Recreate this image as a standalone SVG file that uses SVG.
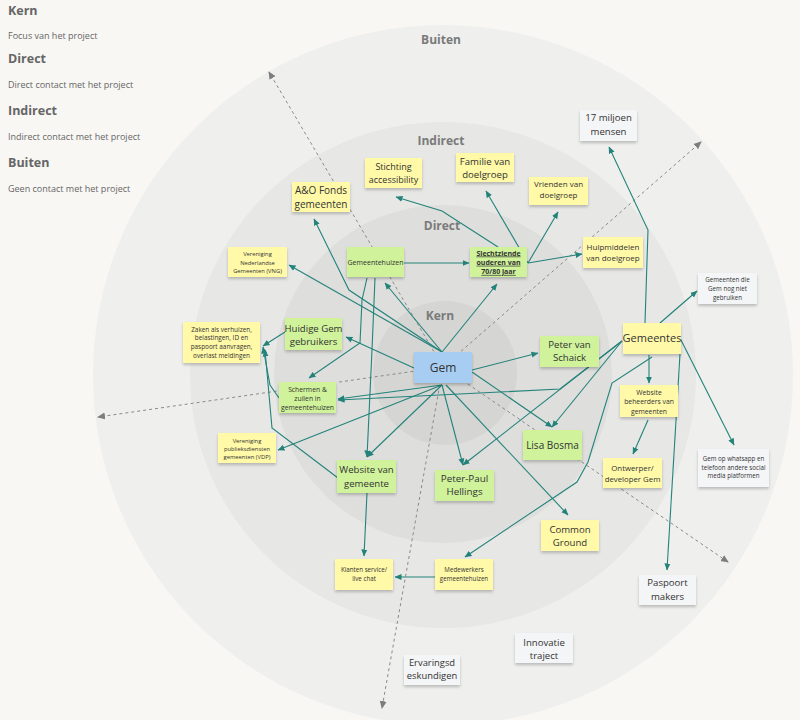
<svg xmlns="http://www.w3.org/2000/svg" width="800" height="720" viewBox="0 0 800 720">
<defs>
<marker id="ah" markerUnits="userSpaceOnUse" markerWidth="7" markerHeight="7" refX="6.5" refY="3.5" orient="auto"><path d="M0,0.5 L7,3.5 L0,6.5 z" fill="#23837a"/></marker>
<marker id="ag" markerUnits="userSpaceOnUse" markerWidth="8" markerHeight="8" refX="7" refY="4" orient="auto"><path d="M0,0.5 L8,4 L0,7.5 z" fill="#7d7d7d"/></marker>
<filter id="sh" x="-10%" y="-10%" width="120%" height="140%"><feDropShadow dx="0" dy="2" stdDeviation="1.4" flood-color="#000" flood-opacity="0.22"/></filter>
<style>
text{font-family:"Open Sans","Noto Sans","Liberation Sans",sans-serif;fill:#333;text-anchor:middle}
.lg{text-anchor:start;fill:#666}
.lt{font-weight:bold;font-size:12.5px}
.ld{font-size:9px;fill:#666}
.ring{font-weight:bold;font-size:12px;fill:#7a7a7a}
.y{fill:#fff9a8;filter:url(#sh)}
.g{fill:#cff29b;filter:url(#sh)}
.b{fill:#a8cdf2;filter:url(#sh)}
.w{fill:#f4f5f7;filter:url(#sh)}
.cn{fill:none;stroke:#23837a;stroke-width:1.1;marker-end:url(#ah)}
.ds{fill:none;stroke:#8a8a8a;stroke-width:1;stroke-dasharray:3 3;marker-end:url(#ag)}
</style>
</defs>
<rect width="800" height="720" fill="#f8f7f4"/>
<g id="rings">
<circle cx="443" cy="375" r="350" fill="#efefed"/>
<circle cx="443" cy="375" r="253" fill="#e7e7e5"/>
<circle cx="443" cy="374" r="169" fill="#dededd"/>
<circle cx="445" cy="373" r="72" fill="#d5d5d4"/>
<text class="ring" x="441" y="44">Buiten</text>
<text class="ring" x="441" y="145">Indirect</text>
<text class="ring" x="442" y="230">Direct</text>
<text class="ring" x="440" y="320">Kern</text>
</g>
<g id="legend">
<text class="lg lt" x="8" y="15">Kern</text>
<text class="lg ld" x="8" y="39">Focus van het project</text>
<text class="lg lt" x="8" y="63">Direct</text>
<text class="lg ld" x="8" y="88">Direct contact met het project</text>
<text class="lg lt" x="8" y="115">Indirect</text>
<text class="lg ld" x="8" y="140">Indirect contact met het project</text>
<text class="lg lt" x="8" y="167">Buiten</text>
<text class="lg ld" x="8" y="192">Geen contact met het project</text>
</g>
<g id="connectors">
<path class="ds" d="M443,367 L269,72"/>
<path class="ds" d="M443,367 L701,142"/>
<path class="ds" d="M443,367 L728,562"/>
<path class="ds" d="M443,367 L382,708"/>
<path class="ds" d="M443,367 L98,417"/>
<path class="cn" d="M442,352 L385,283"/>
<path class="cn" d="M442,352 L497,284"/>
<path class="cn" d="M442,352 L349,290 L314,219"/>
<path class="cn" d="M442,352 L289,265"/>
<path class="cn" d="M404,263 L469,263"/>
<path class="cn" d="M528,263 L486,191"/>
<path class="cn" d="M528,263 L558,212"/>
<path class="cn" d="M528,263 L582,254"/>
<path class="cn" d="M498,247 L442,211 L396,197"/>
<path class="cn" d="M414,368 L346,337"/>
<path class="cn" d="M285,332 L263,346"/>
<path class="cn" d="M367,278 L362,300 L360,343 L309,378"/>
<path class="cn" d="M375,278 L372,350 L367,457"/>
<path class="cn" d="M442,385 L338,399"/>
<path class="cn" d="M442,385 L278,450"/>
<path class="cn" d="M442,385 L367,457"/>
<path class="cn" d="M442,385 L463,465"/>
<path class="cn" d="M446,385 L568,515"/>
<path class="cn" d="M472,370 L538,353"/>
<path class="cn" d="M472,372 L552,427"/>
<path class="cn" d="M622,341 L552,427"/>
<path class="cn" d="M622,341 L463,465"/>
<path class="cn" d="M622,341 L560,389 L338,400"/>
<path class="cn" d="M645,323 L648,230 L609,147"/>
<path class="cn" d="M660,323 L697,291"/>
<path class="cn" d="M681,340 L734,445"/>
<path class="cn" d="M649,355 L649,383"/>
<path class="cn" d="M648,420 L633,454"/>
<path class="cn" d="M680,354 L667,570"/>
<path class="cn" d="M652,357 L612,383 L588,462 L577,482 L465,557"/>
<path class="cn" d="M367,493 L364,556"/>
<path class="cn" d="M435,577 L395,577"/>
<path class="cn" d="M279,398 L270,385 L263,347"/>
<path class="cn" d="M338,478 L272,428 L265,350"/>
</g>
<g id="gem"><rect class="b" x="414" y="352" width="58" height="31"/><text x="443" y="372" font-size="12">Gem</text></g>
<g id="gemeentehuizen"><rect class="g" x="347" y="247" width="57" height="30"/><text x="375.5" y="264.5" font-size="7">Gemeentehuizen</text></g>
<g id="slechtziende"><rect class="g" x="470" y="247" width="57" height="30"/><text x="498.5" font-size="7" font-weight="bold" text-decoration="underline"><tspan x="498.5" y="255.5">Slechtziende</tspan><tspan x="498.5" y="264.7">ouderen van</tspan><tspan x="498.5" y="273.9">70/80 jaar</tspan></text></g>
<g id="aofonds"><rect class="y" x="292" y="182" width="58" height="30"/><text font-size="10"><tspan x="321" y="194">A&amp;O Fonds</tspan><tspan x="321" y="207.5">gemeenten</tspan></text></g>
<g id="stichting"><rect class="y" x="365" y="158" width="57" height="30"/><text font-size="9"><tspan x="393.5" y="170">Stichting</tspan><tspan x="393.5" y="182.5">accessibility</tspan></text></g>
<g id="familie"><rect class="y" x="456" y="153" width="58" height="29"/><text font-size="9.6"><tspan x="485" y="164.5">Familie van</tspan><tspan x="485" y="177.5">doelgroep</tspan></text></g>
<g id="vrienden"><rect class="y" x="529" y="177" width="59" height="28"/><text font-size="8"><tspan x="558.5" y="187">Vrienden van</tspan><tspan x="558.5" y="198">doelgroep</tspan></text></g>
<g id="hulpmiddelen"><rect class="y" x="583" y="237" width="60" height="31"/><text font-size="8"><tspan x="613" y="249.5">Hulpmiddelen</tspan><tspan x="613" y="260.5">van doelgroep</tspan></text></g>
<g id="vng"><rect class="y" x="228" y="247" width="59" height="30"/><text font-size="5.8"><tspan x="257.5" y="256.3">Vereniging</tspan><tspan x="257.5" y="264.7">Nederlandse</tspan><tspan x="257.5" y="273.1">Gemeenten (VNG)</tspan></text></g>
<g id="zaken"><rect class="y" x="183" y="322" width="77" height="41"/><text font-size="6.4"><tspan x="221.5" y="331.5">Zaken als verhuizen,</tspan><tspan x="221.5" y="340.4">belastingen, ID en</tspan><tspan x="221.5" y="349.3">paspoort aanvragen,</tspan><tspan x="221.5" y="358.2">overlast meldingen</tspan></text></g>
<g id="huidige"><rect class="g" x="285" y="318" width="57" height="32"/><text font-size="9.6"><tspan x="313.5" y="332">Huidige Gem</tspan><tspan x="313.5" y="345">gebruikers</tspan></text></g>
<g id="schermen"><rect class="g" x="279" y="382" width="57" height="31"/><text font-size="6.8"><tspan x="307.5" y="391.8">Schermen &amp;</tspan><tspan x="307.5" y="401">zuilen in</tspan><tspan x="307.5" y="410.2">gemeentehuizen</tspan></text></g>
<g id="vdp"><rect class="y" x="218" y="433" width="58" height="30"/><text font-size="5.8"><tspan x="247" y="442.6">Vereniging</tspan><tspan x="247" y="451">publieksdiensten</tspan><tspan x="247" y="459.4">gemeenten (VDP)</tspan></text></g>
<g id="website"><rect class="g" x="337" y="460" width="59" height="33"/><text font-size="9.6"><tspan x="366.5" y="473.3">Website van</tspan><tspan x="366.5" y="486.6">gemeente</tspan></text></g>
<g id="petervs"><rect class="g" x="540" y="336" width="59" height="31"/><text font-size="9.6"><tspan x="569.5" y="348">Peter van</tspan><tspan x="569.5" y="361">Schaick</tspan></text></g>
<g id="lisa"><rect class="g" x="523" y="430" width="59" height="30"/><text x="552.5" y="448.5" font-size="10">Lisa Bosma</text></g>
<g id="peterpaul"><rect class="g" x="435" y="470" width="59" height="31"/><text font-size="9.8"><tspan x="464.5" y="481.6">Peter-Paul</tspan><tspan x="464.5" y="495">Hellings</tspan></text></g>
<g id="common"><rect class="y" x="541" y="520" width="58" height="31"/><text font-size="9.6"><tspan x="570" y="532.6">Common</tspan><tspan x="570" y="545.6">Ground</tspan></text></g>
<g id="gemeentes"><rect class="y" x="623" y="323" width="58" height="31"/><text x="652" y="342" font-size="11">Gemeentes</text></g>
<g id="beheerders"><rect class="y" x="620" y="385" width="58" height="32"/><text font-size="6.8"><tspan x="649" y="395.1">Website</tspan><tspan x="649" y="404.3">beheerders van</tspan><tspan x="649" y="413.5">gemeenten</tspan></text></g>
<g id="ontwerper"><rect class="y" x="603" y="458" width="59" height="30"/><text font-size="7.8"><tspan x="632.5" y="470.8">Ontwerper/</tspan><tspan x="632.5" y="481.6">developer Gem</tspan></text></g>
<g id="nietgebruiken"><rect class="w" x="698" y="273" width="59" height="31"/><text font-size="6.2"><tspan x="727.5" y="281.5">Gemeenten die</tspan><tspan x="727.5" y="290.6">Gem nog niet</tspan><tspan x="727.5" y="299.7">gebruiken</tspan></text></g>
<g id="whatsapp"><rect class="w" x="698" y="449" width="71" height="38"/><text font-size="6.2"><tspan x="733.5" y="461.4">Gem op whatsapp en</tspan><tspan x="733.5" y="469.9">telefoon andere social</tspan><tspan x="733.5" y="478.4">media platformen</tspan></text></g>
<g id="miljoen"><rect class="w" x="580" y="110" width="57" height="31"/><text font-size="9.6"><tspan x="608.5" y="121">17 miljoen</tspan><tspan x="608.5" y="135">mensen</tspan></text></g>
<g id="paspoort"><rect class="w" x="639" y="575" width="57" height="30"/><text font-size="9.6"><tspan x="667.5" y="586">Paspoort</tspan><tspan x="667.5" y="599.6">makers</tspan></text></g>
<g id="klanten"><rect class="y" x="335" y="559" width="58" height="31"/><text font-size="6.2"><tspan x="364" y="571.5">Klanten service/</tspan><tspan x="364" y="581.3">live chat</tspan></text></g>
<g id="medewerkers"><rect class="y" x="435" y="559" width="58" height="31"/><text font-size="6.2"><tspan x="464" y="571.8">Medewerkers</tspan><tspan x="464" y="580.8">gemeentehuizen</tspan></text></g>
<g id="innovatie"><rect class="w" x="515" y="633" width="58" height="30"/><text font-size="9.6"><tspan x="544" y="645.5">Innovatie</tspan><tspan x="544" y="658.7">traject</tspan></text></g>
<g id="ervaring"><rect class="w" x="404" y="655" width="56" height="30"/><text font-size="9.4"><tspan x="432" y="666.4">Ervaringsd</tspan><tspan x="432" y="679.2">eskundigen</tspan></text></g>
</svg>
